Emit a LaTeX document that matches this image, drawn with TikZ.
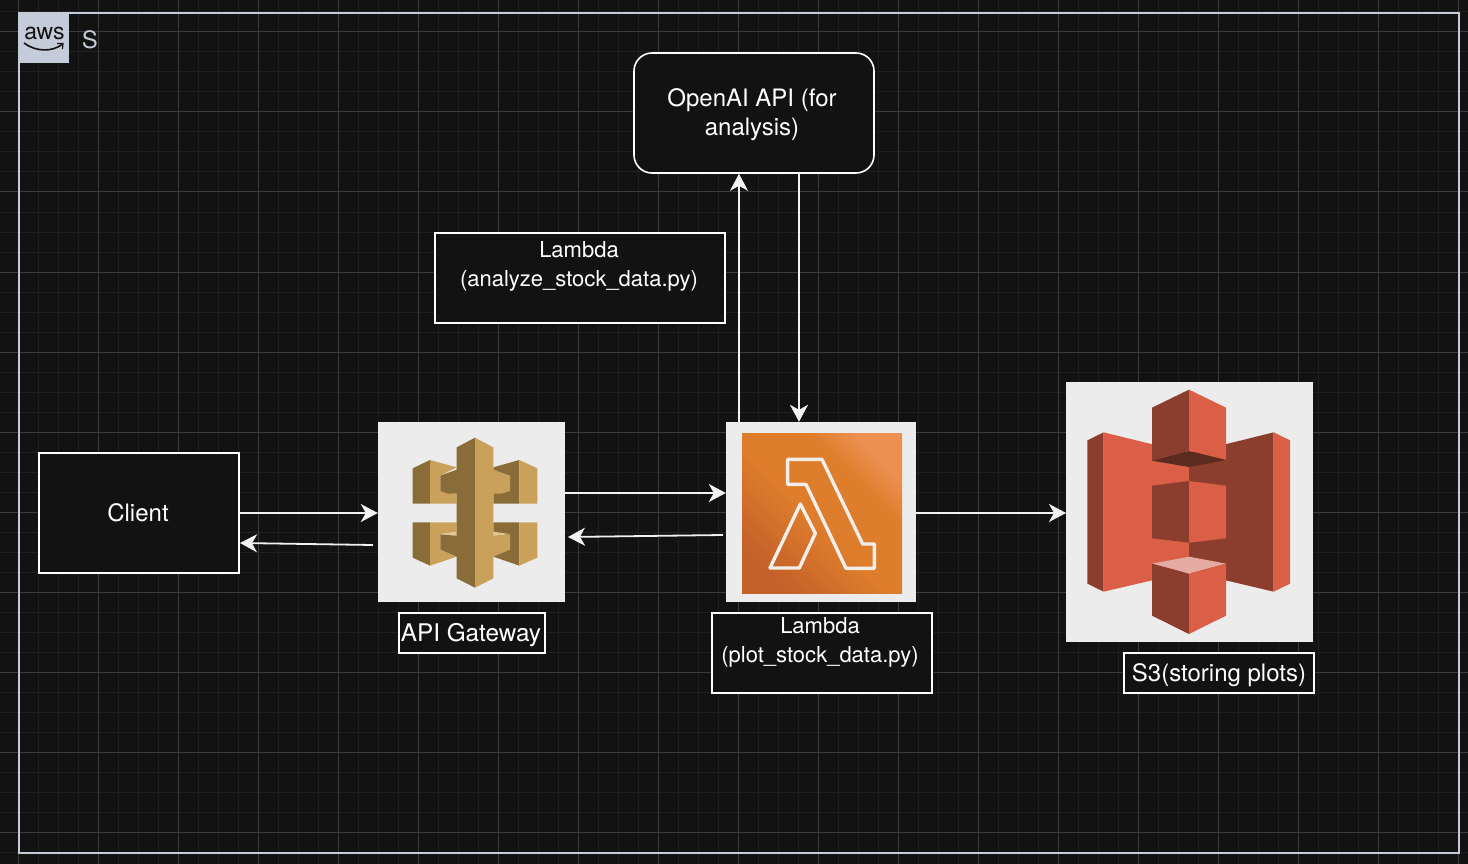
\documentclass[tikz,border=0pt]{standalone}
\usepackage{fontspec}
\setmainfont{TeX Gyre Heros}
\usetikzlibrary{arrows.meta}
\definecolor{bgc}{HTML}{121212}
\definecolor{gridminor}{HTML}{1F1F1F}
\definecolor{gridmajor}{HTML}{3C3C3C}
\definecolor{frame}{HTML}{C5CCD9}
\definecolor{iconbg}{HTML}{ECECEC}
\definecolor{gwdark}{HTML}{8A6C39}
\definecolor{gwlight}{HTML}{C9A15B}
\definecolor{gwpale}{HTML}{E3C79A}
\definecolor{s3light}{HTML}{DB5E46}
\definecolor{s3dark}{HTML}{8B3E2E}
\definecolor{s3deep}{HTML}{5B2B20}
\definecolor{s3pale}{HTML}{E5ABA2}
\definecolor{lamA}{HTML}{C4602A}
\definecolor{lamB}{HTML}{DE7D2B}
\definecolor{lamC}{HTML}{EB9050}
\definecolor{lamline}{HTML}{F2EEEA}
\pgfdeclarehorizontalshading{lamshade}{100bp}{color(0bp)=(lamA); color(25bp)=(lamA); color(47bp)=(lamB); color(65bp)=(lamB); color(75bp)=(lamC); color(100bp)=(lamC)}
\tikzset{
  textfont/.style={font=\fontsize{24}{29}\selectfont, text=white, align=center, inner sep=0pt},
  smalltext/.style={font=\fontsize{22}{29}\selectfont, text=white, align=center, inner sep=0pt},
  whitebox/.style={draw=white, line width=1.6pt, fill=bgc, inner sep=0pt},
  iconbox/.style={fill=iconbg, inner sep=0pt},
  link/.style={draw=white!95!black, line width=1.8pt, -{Stealth[length=17pt,width=18pt,inset=5pt]}},
  icon/.style={x=0.33333pt, y=-0.33333pt},
}
\begin{document}
\begin{tikzpicture}[x=1pt,y=-1pt]
\useasboundingbox (0,0) rectangle (1468,864);
\fill[bgc] (0,0) rectangle (1468,864);
% grid
\foreach \gx in {-2,18,...,1478} {\draw[gridminor,line width=1pt] (\gx,0) -- (\gx,864);}
\foreach \gy in {12,32,...,872} {\draw[gridminor,line width=1pt] (0,\gy) -- (1468,\gy);}
\foreach \gx in {18,98,...,1478} {\draw[gridmajor,line width=1pt] (\gx,0) -- (\gx,864);}
\foreach \gy in {32,112,...,872} {\draw[gridmajor,line width=1pt] (0,\gy) -- (1468,\gy);}
% outer group
\draw[frame,line width=2pt] (19,13) rectangle (1459,853);
\node[fill=frame,minimum width=51pt,minimum height=51pt,inner sep=0pt] (awsbadge) at (43.5,37.5) {};
\node[font=\fontsize{23}{23}\selectfont,text=bgc,inner sep=0pt] (awstext) at (44.5,33) {aws};
\draw[bgc,line width=1.6pt] (24,43) .. controls (36,52) and (52,52) .. (62,44.5);
\draw[bgc,line width=1.2pt] (57,43.5) -- (63,43.5) -- (62.5,49);
\node[font=\fontsize{24}{24}\selectfont,text=frame,inner sep=0pt] (grouplabel) at (90,39.5) {S};
% boxes
\node[whitebox,minimum width=200pt,minimum height=120pt] (client) at (139,513) {};
\node[textfont] (clienttext) at (138,513) {Client};
\node[whitebox,rounded corners=18pt,minimum width=240pt,minimum height=120pt] (openai) at (754,113) {};
\node[textfont] (openaitext) at (752,114.5) {OpenAI API (for\\analysis)};
\node[whitebox,minimum width=290pt,minimum height=90pt] (analyze) at (580,278) {};
\node[smalltext] (analyzetext) at (579,266) {Lambda\\(analyze\_stock\_data.py)};
\node[whitebox,minimum width=146pt,minimum height=40pt] (gwlabelbox) at (472,633) {};
\node[textfont,font=\fontsize{24.3}{29}\selectfont] (gwlabel) at (471,635) {API Gateway};
\node[whitebox,minimum width=220pt,minimum height=80pt] (plot) at (822,653) {};
\node[smalltext] (plottext) at (820,642) {Lambda\\(plot\_stock\_data.py)};
\node[whitebox,minimum width=190pt,minimum height=40pt] (s3labelbox) at (1219,673) {};
\node[textfont] (s3label) at (1219,675) {S3(storing plots)};
% icon tiles
\node[iconbox,minimum width=187pt,minimum height=180pt] (api) at (471.5,512) {};
\node[iconbox,minimum width=190pt,minimum height=180pt] (lam) at (821,512) {};
\node[iconbox,minimum width=247pt,minimum height=260pt] (s3) at (1189.7,512) {};
% API Gateway icon
\begin{scope}[shift={(370,415)},icon]
\fill[gwdark] (128,160) -- (180,135) -- (180,266) -- (128,266) -- cycle;
\fill[gwlight] (180,135) -- (260,157) -- (211,182) -- (211,228) -- (260,237) -- (260,266) -- (180,266) -- cycle;
\fill[gwdark] (211,182) -- (265,162) -- (265,236) -- (235,236) -- (211,228) -- cycle;
\fill[gwdark] (370,157) -- (448,135) -- (448,266) -- (370,266) -- cycle;
\fill[gwlight] (448,135) -- (502,160) -- (502,266) -- (448,266) -- cycle;
\fill[gwlight] (365,162) -- (420,182) -- (420,228) -- (395,236) -- (365,236) -- cycle;
\fill[gwdark] (128,322) -- (180,322) -- (180,452) -- (128,428) -- cycle;
\fill[gwlight] (180,322) -- (260,322) -- (260,350) -- (211,358) -- (211,405) -- (260,425) -- (180,452) -- cycle;
\fill[gwpale] (211,357) -- (262,350) -- (262,364) -- cycle;
\fill[gwdark] (211,358) -- (265,363) -- (265,427) -- (211,404) -- cycle;
\fill[gwdark] (370,322) -- (448,322) -- (448,452) -- (370,425) -- cycle;
\fill[gwlight] (448,322) -- (502,322) -- (502,428) -- (448,452) -- cycle;
\fill[gwpale] (419,357) -- (368,350) -- (368,364) -- cycle;
\fill[gwlight] (365,363) -- (420,358) -- (420,404) -- (365,427) -- cycle;
\fill[gwdark] (260,97) -- (315,68) -- (315,518) -- (260,490) -- cycle;
\fill[gwlight] (315,68) -- (370,97) -- (370,490) -- (315,518) -- cycle;
\end{scope}
% Lambda icon
\begin{scope}[shift={(720,415)},icon]
\shade[shading=lamshade,shading angle=45] (66,56) rectangle (546,536);
\draw[lamline,line width=3.4pt,line join=round] (203,133) -- (306,133) -- (428,387) -- (463,387) -- (463,460) -- (378,460) -- (258,208) -- (203,208) -- cycle;
\draw[lamline,line width=3.4pt,line join=round] (241,267) -- (286,355) -- (238,459) -- (150,459) -- cycle;
\end{scope}
% S3 icon
\begin{scope}[shift={(1060,375)},icon]
\fill[s3dark] (82,196) -- (131,172) -- (131,650) -- (82,626) -- cycle;
\fill[s3light] (131,172) -- (387,235) -- (387,590) -- (131,650) -- cycle;
\fill[s3dark] (387,235) -- (641,172) -- (641,650) -- (387,590) -- cycle;
\fill[s3light] (641,172) -- (690,196) -- (690,626) -- (641,650) -- cycle;
\fill[s3dark] (276,98) -- (387,44) -- (387,228) -- (276,257) -- cycle;
\fill[s3light] (387,44) -- (498,98) -- (498,255) -- (387,228) -- cycle;
\fill[s3deep] (276,257) -- (387,228) -- (498,255) -- (387,276) -- cycle;
\fill[s3dark] (276,332) -- (387,318) -- (387,503) -- (276,490) -- cycle;
\fill[s3light] (387,318) -- (498,332) -- (498,490) -- (387,503) -- cycle;
\fill[s3pale] (276,566) -- (387,545) -- (498,566) -- (387,596) -- cycle;
\fill[s3dark] (276,566) -- (387,596) -- (387,777) -- (276,722) -- cycle;
\fill[s3light] (387,596) -- (498,566) -- (498,722) -- (387,777) -- cycle;
\end{scope}
% connector anchors
\coordinate (upx) at (739,0);
\coordinate (downx) at (799,0);
\coordinate (fwdy) at (0,493);
\coordinate (midy) at (0,513);
\coordinate (lamback) at (723,535);
\coordinate (gwbackend) at (568,537);
\coordinate (gwback) at (373,545);
\coordinate (clientbackend) at (240,543);
% connectors
\draw[link] (client.east) -- (api.west |- client.east);
\draw[link] (gwback) -- (clientbackend);
\draw[link] (api.east |- fwdy) -- (lam.west |- fwdy);
\draw[link] (lamback) -- (gwbackend);
\draw[link] (lam.east |- midy) -- (s3.west |- midy);
\draw[link] (lam.north -| upx) -- (openai.south -| upx);
\draw[link] (openai.south -| downx) -- (lam.north -| downx);
\end{tikzpicture}
\end{document}
